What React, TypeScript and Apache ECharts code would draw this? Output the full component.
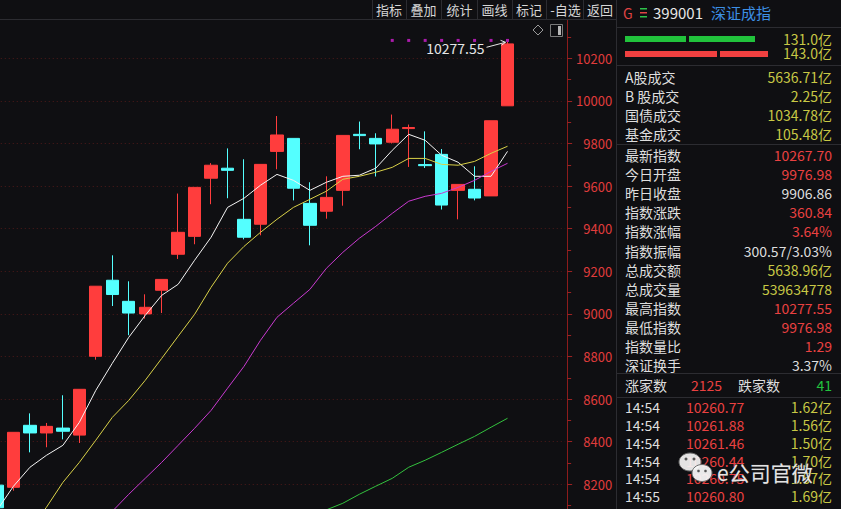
import React, { useEffect, useRef } from "react";
import * as echarts from "echarts";

// ---------- data ----------
const categories = [
  "K01", "K02", "K03", "K04", "K05", "K06", "K07", "K08", "K09", "K10",
  "K11", "K12", "K13", "K14", "K15", "K16", "K17", "K18", "K19", "K20",
  "K21", "K22", "K23", "K24", "K25", "K26", "K27", "K28", "K29", "K30",
  "K31", "K32", "", " ", "  ",
];

const opens = [8196, 8186, 8477, 8441, 8464, 8431, 8801, 9158, 9059, 9000, 9111, 9280, 9364, 9637, 9684, 9444, 9421, 9763, 9824, 9519, 9482, 9580, 9843, 9824, 9806, 9870, 9701, 9749, 9580, 9585, 9554, 9976.98];
const closes = [8090, 8444, 8441, 8472, 8449, 8646, 9130, 9091, 9004, 9031, 9162, 9383, 9594, 9698, 9674, 9360, 9702, 9840, 9590, 9416, 9547, 9838, 9837, 9798, 9867, 9875, 9696, 9511, 9608, 9544, 9906.86, 10267.7];
const lows = [8070, 8170, 8350, 8374, 8411, 8394, 8785, 9037, 8900, 8978, 9004, 9258, 9327, 9515, 9543, 9350, 9369, 9679, 9533, 9322, 9447, 9508, 9773, 9645, 9800, 9690, 9685, 9490, 9444, 9533, 9554, 9976.98];
const highs = [8200, 8444, 8533, 8488, 8618, 8646, 9130, 9275, 9153, 9092, 9162, 9565, 9594, 9708, 9777, 9726, 9702, 9929, 9824, 9618, 9646, 9838, 9903, 9848, 9936, 9889, 9857, 9774, 9608, 9693, 9906.86, 10277.55];

const ma5 = [8078, 8191, 8280, 8336, 8383, 8491, 8641, 8768, 8890, 8993, 9087, 9139, 9252, 9360, 9500, 9543, 9604, 9655, 9627, 9580, 9618, 9646, 9651, 9684, 9768, 9843, 9815, 9745, 9712, 9646, 9646, 9763];
const ma10 = [7782, 7885, 7989, 8092, 8209, 8303, 8407, 8514, 8594, 8688, 8791, 8895, 8998, 9125, 9238, 9317, 9383, 9444, 9500, 9538, 9576, 9632, 9646, 9665, 9688, 9730, 9730, 9702, 9698, 9716, 9754, 9787];
const ma20 = [7552, 7627, 7702, 7773, 7848, 7923, 7998, 8073, 8153, 8228, 8303, 8383, 8463, 8547, 8651, 8754, 8876, 8984, 9050, 9115, 9214, 9289, 9355, 9411, 9472, 9529, 9552, 9566, 9594, 9627, 9669, 9707];
const ma60 = ["-", "-", "-", "-", "-", "-", "-", "-", "-", "-", "-", "-", "-", "-", "-", "-", "-", "-", "-", 8040, 8080, 8111, 8153, 8191, 8228, 8280, 8313, 8350, 8388, 8425, 8468, 8510];

const signalIndex = [24, 25, 26, 27, 28, 29, 30, 31];
const signalLevel = 10284;

const yMin = 7800;
const yMax = 10400;
const yStep = 200;
const yLabelFrom = 8200;
const yLabelTo = 10200;

const toolbarItems = ["指标", "叠加", "统计", "画线", "标记", "-自选", "返回"];
const flowValues = ["131.0亿", "143.0亿"];
const turnoverLabels = ["A股成交", "B 股成交", "国债成交", "基金成交"];
const turnoverValues = ["5636.71亿", "2.25亿", "1034.78亿", "105.48亿"];
const quoteLabels = ["最新指数", "今日开盘", "昨日收盘", "指数涨跌", "指数涨幅", "指数振幅", "总成交额", "总成交量", "最高指数", "最低指数", "指数量比", "深证换手"];
const quoteValues = ["10267.70", "9976.98", "9906.86", "360.84", "3.64%", "300.57/3.03%", "5638.96亿", "539634778", "10277.55", "9976.98", "1.29", "3.37%"];
const quoteTones = ["up", "up", "flat", "up", "up", "flat", "vol", "vol", "up", "up", "up", "flat"];
const breadth = { upLabel: "涨家数", up: "2125", downLabel: "跌家数", down: "41" };
const tickTimes = ["14:54", "14:54", "14:54", "14:54", "14:54", "14:55"];
const tickPrices = ["10260.77", "10261.88", "10261.46", "10260.44", "10260.75", "10260.80"];
const tickVolumes = ["1.62亿", "1.56亿", "1.50亿", "1.70亿", "1.57亿", "1.69亿"];

// ---------- layout / styles ----------
// the chart canvas is a bit larger than the window so that the first candle and
// the lower part of the price scale are cut by the window edge, as in the reference
const OX = 20;
const OY = 70;
const W = 841;
const H = 509;

const BG = "#0f0f12";
const UP = "#ff3d3d";
const DOWN = "#54ffff";
const FONT = '"Noto Sans CJK SC", "Noto Sans", sans-serif';
const LINE = "#2c2c31";
const TXT = "#dedede";
const C_UP = "#ea4141";
const C_VOL = "#c8c845";
const C_GREEN = "#22c23e";

const toneColor: Record<string, string> = { up: C_UP, flat: TXT, vol: C_VOL };

function T(x: number, y: number, text: string, fill: string, size = 14, align = "left") {
  return {
    type: "text",
    x,
    y,
    z: 120,
    silent: true,
    style: { text, fill, font: `${size}px ${FONT}`, align, verticalAlign: "middle" },
  };
}
function L(x1: number, y1: number, x2: number, y2: number, stroke = LINE) {
  return { type: "line", z: 115, silent: true, shape: { x1, y1, x2, y2 }, style: { stroke, lineWidth: 1 } };
}
function R(x: number, y: number, width: number, height: number, fill: string, z = 112) {
  return { type: "rect", z, silent: true, shape: { x, y, width, height }, style: { fill } };
}

function buildGraphics(hx: number, hy: number) {
  const g: any[] = [];
  // toolbar
  g.push(R(0, 0, 616, 19.5, BG, 100));
  g.push(L(0, 19.5, 616, 19.5));
  const tbCenters = [389, 423.5, 459.5, 494.5, 529, 565.5, 600];
  const tbSeps = [372, 406, 441, 477, 512, 546, 583];
  tbSeps.forEach((x) => g.push(L(x + 0.5, 0, x + 0.5, 19.5)));
  toolbarItems.forEach((t, i) => g.push(T(tbCenters[i], 9.5, t, "#d6d6d6", 13, "center")));
  // small icons
  g.push({ type: "polygon", z: 115, silent: true, shape: { points: [[538, 25], [543, 30], [538, 35], [533, 30]] }, style: { fill: "none", stroke: "#9a9a9a", lineWidth: 1 } });
  g.push({ type: "rect", z: 115, silent: true, shape: { x: 550.5, y: 24.5, width: 12, height: 12 }, style: { fill: "none", stroke: "#7a7a7a", lineWidth: 1 } });
  g.push(R(558, 26, 3, 9, "#b8b8b8", 116));

  // highest price annotation
  g.push(T(hx - 23, hy + 6.5, "10277.55", "#e6e6e6", 14, "right"));
  g.push(L(hx - 21, hy + 5.5, hx - 2, hy + 0.5, "#e6e6e6"));
  g.push({ type: "polyline", z: 116, silent: true, shape: { points: [[hx - 7, hy - 1.5], [hx - 2, hy + 0.5], [hx - 6, hy + 3.5]] }, style: { fill: "none", stroke: "#e6e6e6", lineWidth: 1 } });

  // right panel
  g.push(R(616, 0, 225 + OX, H + OY, BG, 100));
  g.push(L(616.5, 0, 616.5, H));
  g.push(T(623, 12.5, "G", "#e04444", 14));
  g.push(R(640, 8, 7, 1.5, "#2ec24a"));
  g.push(R(640, 12, 7, 1.5, "#e04444"));
  g.push(R(640, 16, 7, 1.5, "#2ec24a"));
  g.push(T(653, 12.5, "399001", "#e8e8e8", 15));
  g.push(T(711, 12.5, "深证成指", "#3d8fe3", 15));
  g.push(L(617, 27.5, 841, 27.5));

  g.push(R(625, 36, 61, 6, "#21c33c"));
  g.push(R(689, 36, 66, 6, "#21c33c"));
  g.push(T(832, 38.5, flowValues[0], C_VOL, 14, "right"));
  g.push(R(625, 51, 92, 6, "#f04040"));
  g.push(R(720, 51, 48, 6, "#f04040"));
  g.push(T(832, 53, flowValues[1], C_VOL, 14, "right"));
  g.push(L(617, 65.5, 841, 65.5));

  turnoverLabels.forEach((t, i) => {
    const y = 76.5 + i * 19;
    g.push(T(625, y, t, TXT, 14));
    g.push(T(832, y, turnoverValues[i], C_VOL, 14, "right"));
  });
  g.push(L(617, 144.5, 841, 144.5));

  quoteLabels.forEach((t, i) => {
    const y = 155 + i * 19.1;
    g.push(T(625, y, t, TXT, 14));
    g.push(T(832, y, quoteValues[i], toneColor[quoteTones[i]], 14, "right"));
  });
  g.push(L(617, 373.5, 841, 373.5));

  g.push(T(625, 385, breadth.upLabel, TXT, 14));
  g.push(T(691, 385, breadth.up, C_UP, 14));
  g.push(T(738, 385, breadth.downLabel, TXT, 14));
  g.push(T(832, 385, breadth.down, C_GREEN, 14, "right"));
  g.push(L(617, 397.5, 841, 397.5));

  tickTimes.forEach((t, i) => {
    const y = 407.3 + i * 17.75;
    g.push(T(625, y, t, TXT, 14));
    g.push(T(686, y, tickPrices[i], C_UP, 14));
    g.push(T(832, y, tickVolumes[i], C_VOL, 14, "right"));
  });

  // watermark
  g.push({ type: "ellipse", z: 130, silent: true, shape: { cx: 690, cy: 462, rx: 11, ry: 9 }, style: { fill: "rgba(245,245,245,0.92)", stroke: "#6a6a6a", lineWidth: 1 } });
  g.push({ type: "ellipse", z: 131, silent: true, shape: { cx: 702, cy: 473, rx: 10, ry: 8.5 }, style: { fill: "rgba(245,245,245,0.95)", stroke: "#6a6a6a", lineWidth: 1 } });
  g.push({ type: "circle", z: 132, silent: true, shape: { cx: 686, cy: 459, r: 1.5 }, style: { fill: "#555" } });
  g.push({ type: "circle", z: 132, silent: true, shape: { cx: 694, cy: 459, r: 1.5 }, style: { fill: "#555" } });
  g.push({ type: "circle", z: 133, silent: true, shape: { cx: 698.5, cy: 471, r: 1.3 }, style: { fill: "#555" } });
  g.push({ type: "circle", z: 133, silent: true, shape: { cx: 705.5, cy: 471, r: 1.3 }, style: { fill: "#555" } });
  g.push({
    type: "text", x: 717, y: 471.5, z: 134, silent: true,
    style: { text: "e公司官微", fill: "rgba(248,248,248,0.93)", font: `21px ${FONT}`, align: "left", verticalAlign: "middle", stroke: "rgba(60,60,60,0.6)", lineWidth: 1 },
  });
  return [{ type: "group", x: OX, y: 0, children: g }];
}

export default function App() {
  const ref = useRef<HTMLDivElement>(null);
  useEffect(() => {
    if (!ref.current) return;
    const chart = echarts.init(ref.current, undefined, { renderer: "svg" });
    const candleData = opens.map((o, i) => [o, closes[i], lows[i], highs[i]]);
    const signalData = signalIndex.map((i) => [i, signalLevel]);
    const maLine = (name: string, data: any[], color: string) => ({
      name,
      type: "line",
      data,
      symbol: "none",
      smooth: false,
      clip: true,
      z: 3,
      lineStyle: { color, width: 1 },
      silent: true,
    });
    chart.setOption({
      animation: false,
      backgroundColor: BG,
      grid: { left: OX - 11.23, right: 275.85, top: 15.7, bottom: H + OY - 569.5, containLabel: false },
      xAxis: {
        type: "category",
        data: categories,
        boundaryGap: true,
        axisLine: { show: false },
        axisTick: { show: false },
        axisLabel: { show: false },
        splitLine: { show: false },
      },
      yAxis: {
        type: "value",
        position: "right",
        offset: 2,
        min: yMin,
        max: yMax,
        interval: yStep,
        axisLine: { show: true, lineStyle: { color: "#8c1c1c", width: 1 } },
        axisTick: { show: true, length: 5, lineStyle: { color: "#9a2222" } },
        minorTick: { show: true, splitNumber: 2, length: 4, lineStyle: { color: "#9a2222" } },
        axisLabel: {
          color: "#e03c3c",
          fontSize: 13,
          fontFamily: FONT,
          align: "right",
          margin: 45,
          showMaxLabel: false,
          showMinLabel: false,
          formatter: (v: number) => (v >= yLabelFrom && v <= yLabelTo ? String(v) : ""),
        },
        splitLine: { show: true, lineStyle: { color: "#4e1a1a", type: [1, 3], width: 1 } },
      },
      series: [
        {
          name: "K",
          type: "candlestick",
          data: candleData,
          barWidth: "78%",
          clip: true,
          z: 2,
          silent: true,
          itemStyle: { color: UP, color0: DOWN, borderColor: UP, borderColor0: DOWN, borderWidth: 1 },
        },
        maLine("MA5", ma5, "#f4f4f4"),
        maLine("MA10", ma10, "#d9d148"),
        maLine("MA20", ma20, "#c93ad0"),
        maLine("MA60", ma60, "#33c23e"),
        {
          name: "signal",
          type: "scatter",
          data: signalData,
          symbol: "rect",
          symbolSize: 3,
          silent: true,
          itemStyle: { color: "#d21fd2" },
          z: 4,
        },
      ],
    });
    const p = chart.convertToPixel({ gridIndex: 0 }, [31, highs[31]]) as number[];
    chart.setOption({ graphic: { elements: buildGraphics(p[0] - OX, p[1]) } });
    return () => chart.dispose();
  }, []);
  return (
    <div
      ref={ref}
      style={{ position: "fixed", left: -OX, top: 0, width: W + OX, height: H + OY, background: BG }}
    />
  );
}
